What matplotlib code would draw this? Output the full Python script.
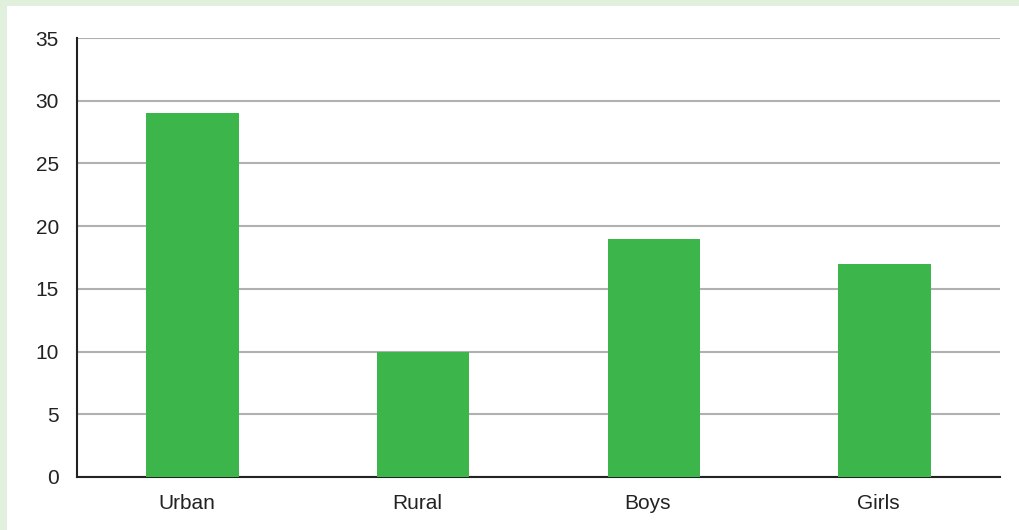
import matplotlib.pyplot as plt
import matplotlib.transforms as mtransforms
from matplotlib.patches import Rectangle

categories = ["Urban", "Rural", "Boys", "Girls"]
values = [29, 10, 19, 17]
y_ticks = [0, 5, 10, 15, 20, 25, 30, 35]

plt.rcParams["font.family"] = ["Liberation Sans", "DejaVu Sans"]

fig = plt.figure(figsize=(10.2, 5.3), dpi=100)
fig.patch.set_facecolor("white")
# light green frame along the top and left edges
frame = "#e1f0dc"
fig.patches.append(Rectangle((0, 1 - 6 / 530), 1, 6 / 530, transform=fig.transFigure,
                             facecolor=frame, edgecolor="none", zorder=-10))
fig.patches.append(Rectangle((0, 0), 7 / 1020, 1, transform=fig.transFigure,
                             facecolor=frame, edgecolor="none", zorder=-10))

ax = fig.add_axes([77 / 1020, 53 / 530, 923 / 1020, 439 / 530])
ax.set_facecolor("none")

x = [i + 0.5 for i in range(len(categories))]
ax.bar(x, values, width=0.4, color="#3cb54b", zorder=3)

ax.set_xlim(0, 4)
ax.set_ylim(0, 35)
ax.set_yticks(y_ticks)
ax.set_xticks(x)
ax.set_xticklabels(categories)
ax.yaxis.grid(True, color="#b0b0b0", linewidth=1.5, zorder=1)
ax.set_axisbelow(True)

ax.tick_params(axis="both", length=0, labelsize=15, colors="#222222")
ax.tick_params(axis="y", pad=13)
ax.tick_params(axis="x", pad=12)

# category labels sit a little left of the bar centres in the original
shift = mtransforms.ScaledTranslation(-6 / 100, 0, fig.dpi_scale_trans)
for lbl in ax.get_xticklabels():
    lbl.set_transform(lbl.get_transform() + shift)

ax.spines["top"].set_visible(False)
ax.spines["right"].set_visible(False)
ax.spines["left"].set_color("#222222")
ax.spines["bottom"].set_color("#222222")
ax.spines["left"].set_linewidth(1.5)
ax.spines["bottom"].set_linewidth(1.5)

fig.savefig("out.png", dpi=100, facecolor=fig.get_facecolor())
